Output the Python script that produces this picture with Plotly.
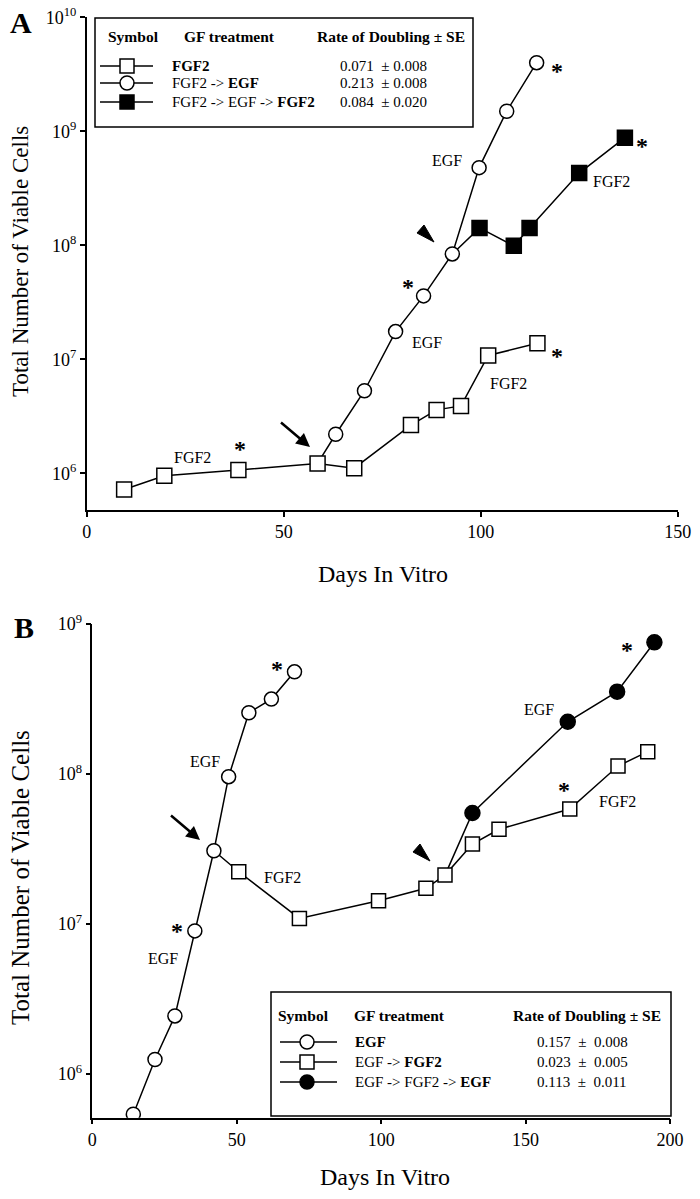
import plotly.graph_objects as go

W, H = 700, 1199

# ---- panel A data (days in vitro, total viable cells) ----
a_fgf2_days = [9.5, 19.7, 38.5, 58.6, 67.9, 82.3, 88.8, 95.0, 101.9, 114.4]
a_fgf2_cells = [7.2e5, 9.5e5, 1.07e6, 1.22e6, 1.11e6, 2.65e6, 3.6e6, 3.9e6, 1.08e7, 1.38e7]

a_egf_days = [63.2, 70.5, 78.4, 85.5, 92.8, 99.6, 106.6, 114.2]
a_egf_cells = [2.2e6, 5.3e6, 1.75e7, 3.6e7, 8.4e7, 4.8e8, 1.5e9, 4.0e9]

a_back_days = [99.7, 108.4, 112.4, 125.0, 136.6]
a_back_cells = [1.42e8, 9.9e7, 1.42e8, 4.3e8, 8.8e8]

# ---- panel B data ----
b_egf_days = [14.2, 21.7, 28.6, 35.5, 42.1, 47.2, 54.2, 62.0, 70.0]
b_egf_cells = [5.4e5, 1.25e6, 2.44e6, 9.0e6, 3.08e7, 9.6e7, 2.56e8, 3.16e8, 4.8e8]

b_fgf2_days = [50.7, 71.7, 99.1, 115.5, 122.1, 131.6, 140.8, 165.3, 182.0, 192.3]
b_fgf2_cells = [2.23e7, 1.09e7, 1.43e7, 1.73e7, 2.12e7, 3.41e7, 4.28e7, 5.84e7, 1.13e8, 1.41e8]

b_back_days = [131.6, 164.6, 181.7, 194.6]
b_back_cells = [5.5e7, 2.23e8, 3.54e8, 7.55e8]

a_ticks = [1e6, 1e7, 1e8, 1e9, 1e10]
a_ticktext = ["10<sup>6</sup>", "10<sup>7</sup>", "10<sup>8</sup>", "10<sup>9</sup>", "10<sup>10</sup>"]
b_ticks = [1e6, 1e7, 1e8, 1e9]
b_ticktext = ["10<sup>6</sup>", "10<sup>7</sup>", "10<sup>8</sup>", "10<sup>9</sup>"]

a_legend_rows = ["<b>FGF2</b>", "FGF2 -> <b>EGF</b>", "FGF2 -> EGF -> <b>FGF2</b>"]
a_legend_rates = ["0.071  \u00b1 0.008", "0.213  \u00b1 0.008", "0.084  \u00b1 0.020"]
b_legend_rows = ["<b>EGF</b>", "EGF -> <b>FGF2</b>", "EGF -> FGF2 -> <b>EGF</b>"]
b_legend_rates = ["0.157  \u00b1  0.008", "0.023  \u00b1  0.005", "0.113  \u00b1  0.011"]

SERIF = "Liberation Serif"
LW = 1.5


def px(x):
    return x / W


def py(y):
    return 1 - y / H


fig = go.Figure()


def add_series(xs, ys, xa, ya, symbol, fill, size):
    fig.add_trace(go.Scatter(x=xs, y=ys, xaxis=xa, yaxis=ya, mode="markers",
                             marker=dict(symbol=symbol, size=size, color=fill,
                                         line=dict(color="black", width=LW)),
                             showlegend=False, hoverinfo="x+y"))


def add_line(xs, ys, xa, ya):
    fig.add_trace(go.Scatter(x=xs, y=ys, xaxis=xa, yaxis=ya, mode="lines",
                             line=dict(color="black", width=LW),
                             showlegend=False, hoverinfo="skip"))


# lines first, branching from the previous treatment's point
add_line(a_fgf2_days, a_fgf2_cells, "x", "y")
add_line([a_fgf2_days[3]] + a_egf_days, [a_fgf2_cells[3]] + a_egf_cells, "x", "y")
add_line([a_egf_days[4]] + a_back_days, [a_egf_cells[4]] + a_back_cells, "x", "y")
add_line(b_egf_days, b_egf_cells, "x2", "y2")
add_line([b_egf_days[4]] + b_fgf2_days, [b_egf_cells[4]] + b_fgf2_cells, "x2", "y2")
add_line([b_fgf2_days[4]] + b_back_days, [b_fgf2_cells[4]] + b_back_cells, "x2", "y2")

add_series(a_fgf2_days, a_fgf2_cells, "x", "y", "square", "white", 15)
add_series(a_egf_days, a_egf_cells, "x", "y", "circle", "white", 14)
add_series(a_back_days, a_back_cells, "x", "y", "square", "black", 15)
add_series(b_egf_days, b_egf_cells, "x2", "y2", "circle", "white", 14)
add_series(b_fgf2_days, b_fgf2_cells, "x2", "y2", "square", "white", 14)
add_series(b_back_days, b_back_cells, "x2", "y2", "circle", "black", 15)

axis_common = dict(showline=True, linecolor="black", linewidth=LW, ticks="outside",
                   ticklen=5, tickwidth=LW, tickcolor="black", showgrid=False,
                   zeroline=False, automargin=False,
                   tickfont=dict(family=SERIF, size=18, color="black"))

fig.update_layout(
    width=W, height=H, autosize=False, template="none",
    margin=dict(l=0, r=0, t=0, b=0),
    paper_bgcolor="white", plot_bgcolor="white",
    xaxis=dict(domain=[px(86.7), px(677.7)], range=[0, 150], tickvals=[0, 50, 100, 150],
               anchor="y", **axis_common),
    yaxis=dict(domain=[py(510), py(17.3)], type="log", range=[5.678, 10],
               tickvals=a_ticks, ticktext=a_ticktext, anchor="x", **axis_common),
    xaxis2=dict(domain=[px(92.3), px(670)], range=[0, 200], tickvals=[0, 50, 100, 150, 200],
                anchor="y2", **axis_common),
    yaxis2=dict(domain=[py(1117.7), py(624)], type="log", range=[5.709, 9],
                tickvals=b_ticks, ticktext=b_ticktext, anchor="x2", **axis_common),
)

ann = []
shapes = []


def text(x, y, s, size=16, **kw):
    d = dict(x=px(x), y=py(y), xref="paper", yref="paper", text=s, showarrow=False,
             xanchor="center", yanchor="middle",
             font=dict(family=SERIF, size=size, color="black"))
    d.update(kw)
    ann.append(d)


def star(x, y):
    text(x, y + 6, "<b>*</b>", size=24)


# panel letters and axis titles
text(21, 22, "<b>A</b>", size=30)
text(24, 628, "<b>B</b>", size=30)
text(20, 262, "Total Number of Viable Cells", size=23, textangle=-90)
text(20, 878, "Total Number of Viable Cells", size=25, textangle=-90)
text(383, 574, "Days In Vitro", size=24)
text(385, 1177, "Days In Vitro", size=24)

# in-plot labels, panel A
text(193, 457, "FGF2")
star(240, 443)
text(447, 161, "EGF")
star(408, 281)
text(427, 342, "EGF")
text(509, 383, "FGF2")
star(557, 350)
star(557, 65)
star(642, 140)
text(611, 182, "FGF2")
# panel B
star(277, 663)
text(205, 761, "EGF")
text(282, 877, "FGF2")
star(177, 925)
text(163, 958, "EGF")
text(539, 709, "EGF")
star(627, 644)
star(564, 784)
text(617, 801, "FGF2")

# arrows
for tip in ((310, 447), (200, 840)):
    ann.append(dict(x=px(tip[0]), y=py(tip[1]), xref="paper", yref="paper", ax=-32, ay=-27,
                    showarrow=True, arrowhead=2, arrowsize=1.1, arrowwidth=2.5,
                    arrowcolor="black", text=" "))


# wedge arrowheads
def wedge(tx, ty):
    pts = [(tx, ty), (tx - 17, ty - 9), (tx - 10, ty - 17)]
    path = "M " + " L ".join(f"{px(a)} {py(b)}" for a, b in pts) + " Z"
    shapes.append(dict(type="path", xref="paper", yref="paper", path=path,
                       fillcolor="black", line=dict(color="black", width=1)))


wedge(434, 242)
wedge(430, 861)


# legend boxes
def legend_box(x0, y0, x1, y1, hx, header_y, rows, rates, row_ys, sym_x, line_x0, line_x1,
               treat_x, rate_x, rate_anchor, symbols):
    shapes.append(dict(type="rect", xref="paper", yref="paper", x0=px(x0), x1=px(x1),
                       y0=py(y1), y1=py(y0), line=dict(color="black", width=LW),
                       fillcolor="white", layer="above"))
    text(hx[0], header_y, "<b>Symbol</b>", size=15.5, xanchor="left")
    text(hx[1], header_y, "<b>GF treatment</b>", size=15.5, xanchor="left")
    text(hx[2], header_y, "<b>Rate of Doubling \u00b1 SE</b>", size=15.5, xanchor=rate_anchor)
    for ry, row, rate, (sym, fill) in zip(row_ys, rows, rates, symbols):
        shapes.append(dict(type="line", xref="paper", yref="paper", x0=px(line_x0), x1=px(line_x1),
                           y0=py(ry), y1=py(ry), line=dict(color="black", width=LW), layer="above"))
        r = 7
        shapes.append(dict(type=sym, xref="paper", yref="paper", x0=px(sym_x - r), x1=px(sym_x + r),
                           y0=py(ry + r), y1=py(ry - r), fillcolor=fill,
                           line=dict(color="black", width=LW), layer="above"))
        text(treat_x, ry, row, size=15, xanchor="left")
        text(rate_x, ry, rate, size=15, xanchor=rate_anchor)


legend_box(95, 18, 473, 127, (106, 182, 315), 37, a_legend_rows, a_legend_rates,
           (66, 83, 102), 127, 100, 153, 170, 338, "left",
           [("rect", "white"), ("circle", "white"), ("rect", "black")])
legend_box(271, 992, 671, 1116, (276, 352, 587), 1015, b_legend_rows, b_legend_rates,
           (1042, 1062, 1082), 307, 280, 337, 353, 582, "center",
           [("circle", "white"), ("rect", "white"), ("circle", "black")])

fig.update_layout(annotations=ann, shapes=shapes)
fig.write_html("out.html", config={"displayModeBar": False},
               post_script="document.body.style.margin='0px';")
